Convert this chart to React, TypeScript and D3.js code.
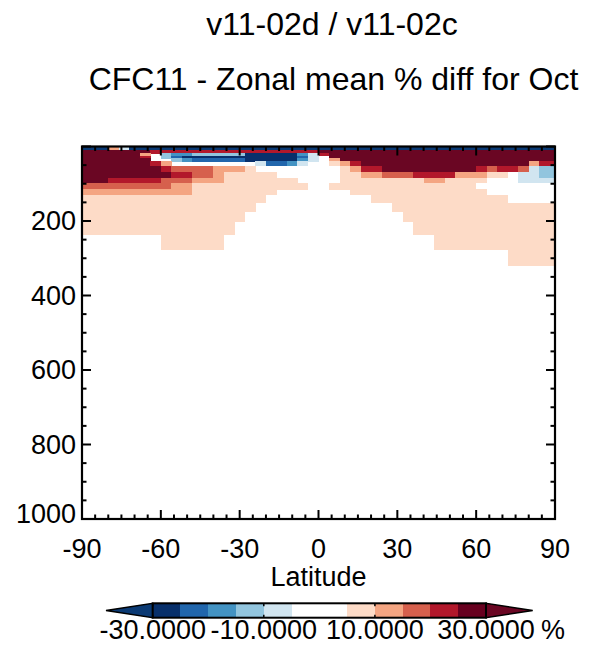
import React from 'react';
import * as d3 from 'd3';

// ---- data ----
const titleLine1 = 'v11-02d / v11-02c';
const titleLine2 = 'CFC11 - Zonal mean % diff for Oct';
const xAxisTitle = 'Latitude';
const unitLabel = '%';

// latitude cell edges (46 columns)
const latEdges = [-90, -88, -84, -80, -76, -72, -68, -64, -60, -56, -52, -48, -44, -40, -36, -32, -28, -24, -20, -16, -12, -8, -4, 0, 4, 8, 12, 16, 20, 24, 28, 32, 36, 40, 44, 48, 52, 56, 60, 64, 68, 72, 76, 80, 84, 88, 90];
// pressure cell edges (hPa), top to bottom; everything below is ~0 %
const pressureEdges = [0, 9, 18, 25, 32, 40, 52, 68, 85, 97, 115, 130, 152, 175, 202, 237, 278, 320];

// representative % difference for each class code
const classValues: Record<string, number> = {
  a: -35, b: -27.5, c: -22.5, d: -17.5, e: -12.5, f: -7.5, '0': 0,
  g: 7.5, h: 12.5, i: 17.5, j: 22.5, k: 27.5, l: 35,
};

// run-length rows (code + count), one per pressure layer, south -> north
const diffRuns = [
  'a3 h1 f1 a41',
  'l7 j16 l23',
  'l6 h1 01 e1 d2 e5 b5 d1 f1 j1 l22',
  'l6 j1 01 e1 c1 b11 c1 f1 01 l22',
  'l7 02 e1 d1 c5 b5 d1 f1 01 h1 l21',
  'l7 j1 h1 08 f1 c2 d1 f1 02 g1 h1 j1 l16 h1 j2',
  'l8 j1 i4 h3 g1 08 g1 h1 j2 l9 j1 i1 j1 j1 i1 f1 e2',
  'l9 j2 i2 h1 g5 06 g2 h2 i3 j4 h3 g2 01 f2 e2',
  'l3 j5 i3 h3 g7 04 g8 h2 g4 03 f4',
  'i9 h2 g11 02 g14 08',
  'h11 g8 07 g13 07',
  'g18 010 g13 05',
  'g17 013 g16',
  'g16 015 g15',
  'g15 017 g14',
  '08 g6 020 g12',
  '041 g5',
];

const contourLevels = [-30, -25, -20, -15, -10, -5, 5, 10, 15, 20, 25, 30];
const palette = ['#0b3a74', '#08306b', '#2166ac', '#4393c3', '#92c5de', '#d1e5f0', '#ffffff', '#fddbc7', '#f4a582', '#d6604d', '#b2182b', '#67001f', '#6a0623'];
const colorbarEdges = [-30, -25, -20, -15, -10, -5, 0, 5, 10, 15, 20, 25, 30];
const colorbarLabels = [-30, -10, 10, 30];

const xTicks = [-90, -60, -30, 0, 30, 60, 90];
const yTicks = [200, 400, 600, 800, 1000];

// ---- layout ----
const W = 602;
const H = 653;
const plot = { left: 82, right: 555, top: 146.5, bottom: 519 };
const cb = { left: 152.7, right: 486, top: 603.3, bottom: 617.7, tipL: 106, tipR: 532.7 };
const FONT = 'Liberation Sans, Arial, Helvetica, sans-serif';

function parseRow(s: string): number[] {
  const out: number[] = [];
  s.split(' ').forEach((tok) => {
    const code = tok[0];
    const n = parseInt(tok.slice(1), 10);
    for (let i = 0; i < n; i++) out.push(classValues[code]);
  });
  return out;
}

export default function App() {
  const x = d3.scaleLinear().domain([-90, 90]).range([plot.left, plot.right]);
  const y = d3.scaleLinear().domain([0, 1000]).range([plot.top, plot.bottom]);
  const color = d3.scaleThreshold<number, string>().domain(contourLevels).range(palette);
  const cbx = d3.scaleLinear().domain([-30, 30]).range([cb.left, cb.right]);

  const cells: { x0: number; x1: number; y0: number; y1: number; c: string }[] = [];
  diffRuns.forEach((row, r) => {
    const vals = parseRow(row);
    vals.forEach((v, k) => {
      if (v === 0) return;
      cells.push({
        x0: x(latEdges[k]),
        x1: x(latEdges[k + 1]),
        y0: y(pressureEdges[r]),
        y1: y(pressureEdges[r + 1]),
        c: color(v),
      });
    });
  });

  const xMinor = d3.range(-90, 90.1, 5);
  const yMinor = d3.range(0, 1000.1, 50);
  const major = 9;
  const minor = 4.5;
  const cbMid = (cb.top + cb.bottom) / 2;

  return (
    <svg width={W} height={H} style={{ position: 'absolute', left: 0, top: 0, display: 'block', background: '#fff' }} fontFamily={FONT}>
      <rect x={0} y={0} width={W} height={H} fill="#fff" />
      <text x={332} y={35} textAnchor="middle" fontSize={32}>{titleLine1}</text>
      <text x={333.5} y={90} textAnchor="middle" fontSize={32}>{titleLine2}</text>

      <g shapeRendering="crispEdges">
        {cells.map((c, i) => (
          <rect key={i} x={c.x0} y={c.y0} width={c.x1 - c.x0 + 0.3} height={c.y1 - c.y0 + 0.3} fill={c.c} />
        ))}
      </g>

      {/* ticks */}
      <g stroke="#000" strokeWidth={2}>
        {xMinor.map((v) => {
          const len = xTicks.includes(v) ? major : minor;
          return (
            <g key={'xt' + v}>
              <line x1={x(v)} x2={x(v)} y1={plot.bottom} y2={plot.bottom - len} />
              <line x1={x(v)} x2={x(v)} y1={plot.top} y2={plot.top + len} />
            </g>
          );
        })}
        {yMinor.map((v) => {
          const len = v % 200 === 0 ? major : minor;
          return (
            <g key={'yt' + v}>
              <line x1={plot.left} x2={plot.left + len} y1={y(v)} y2={y(v)} />
              <line x1={plot.right} x2={plot.right - len} y1={y(v)} y2={y(v)} />
            </g>
          );
        })}
      </g>
      <rect x={plot.left} y={plot.top} width={plot.right - plot.left} height={plot.bottom - plot.top} fill="none" stroke="#000" strokeWidth={2.2} />

      {xTicks.map((v) => (
        <text key={'xl' + v} x={x(v)} y={558} textAnchor="middle" fontSize={27}>{v}</text>
      ))}
      {yTicks.map((v) => (
        <text key={'yl' + v} x={76} y={y(v) + 9 - (v === 1000 ? 5 : 0)} textAnchor="end" fontSize={27}>{v}</text>
      ))}
      <text x={x(0)} y={586} textAnchor="middle" fontSize={27}>{xAxisTitle}</text>

      {/* colorbar */}
      <polygon points={`${cb.tipL},${cbMid} ${cb.left},${cb.top} ${cb.left},${cb.bottom}`} fill={palette[0]} stroke="#000" strokeWidth={1.5} />
      <polygon points={`${cb.tipR},${cbMid} ${cb.right},${cb.top} ${cb.right},${cb.bottom}`} fill={palette[palette.length - 1]} stroke="#000" strokeWidth={1.5} />
      <g shapeRendering="crispEdges">
        {colorbarEdges.slice(0, -1).map((v, i) => (
          <rect key={'cb' + i} x={cbx(v)} y={cb.top} width={cbx(colorbarEdges[i + 1]) - cbx(v) + 0.3} height={cb.bottom - cb.top} fill={color((v + colorbarEdges[i + 1]) / 2)} />
        ))}
      </g>
      <rect x={cb.left} y={cb.top} width={cb.right - cb.left} height={cb.bottom - cb.top} fill="none" stroke="#000" strokeWidth={2} />
      <g stroke="#000" strokeWidth={1.5}>
        {colorbarLabels.map((v) => (
          <g key={'cbt' + v}>
            <line x1={cbx(v)} x2={cbx(v)} y1={cb.top} y2={cb.top + 3} />
            <line x1={cbx(v)} x2={cbx(v)} y1={cb.bottom} y2={cb.bottom - 3} />
          </g>
        ))}
      </g>
      {colorbarLabels.map((v) => (
        <text key={'cbl' + v} x={cbx(v)} y={639} textAnchor="middle" fontSize={27}>{v.toFixed(4)}</text>
      ))}
      <text x={541} y={639} fontSize={27}>{unitLabel}</text>
    </svg>
  );
}
